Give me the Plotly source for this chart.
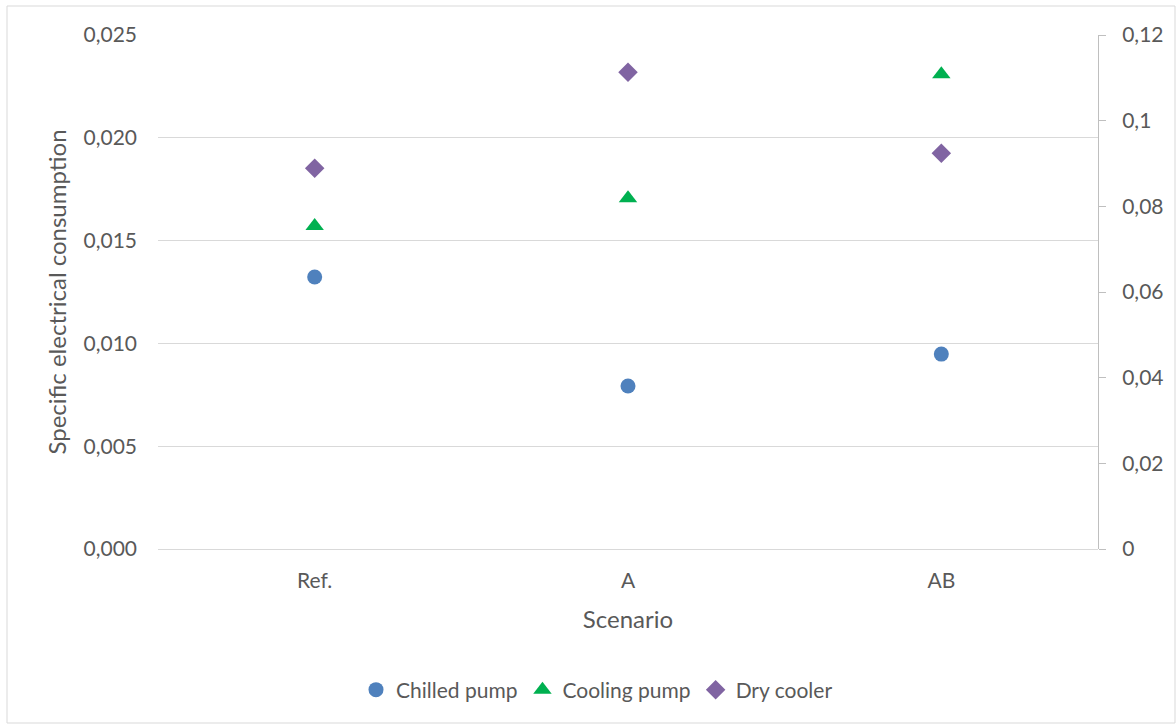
import plotly.graph_objects as go

scenarios = ["Ref.", "A", "AB"]
chilled_pump = [0.01323, 0.00793, 0.00948]
cooling_pump = [0.01571, 0.01706, 0.02309]
dry_cooler = [0.0889, 0.1113, 0.0924]

left_ticks = [0, 0.005, 0.010, 0.015, 0.020, 0.025]
right_ticks = [0, 0.02, 0.04, 0.06, 0.08, 0.10, 0.12]
right_ticktext = ["0", "0,02", "0,04", "0,06", "0,08", "0,1", "0,12"]

FONT = "Lato"
TXT = "#595959"
TICK = 21
TITLE = 24

fig = go.Figure()
fig.add_trace(go.Scatter(x=scenarios, y=chilled_pump, mode="markers", name="Chilled pump",
                         marker=dict(symbol="circle", size=15, color="#4F81BD")))
fig.add_trace(go.Scatter(x=scenarios, y=cooling_pump, mode="markers", name="Cooling pump",
                         marker=dict(symbol="triangle-up", size=16, color="#00B050")))
fig.add_trace(go.Scatter(x=scenarios, y=dry_cooler, mode="markers", name="Dry cooler", yaxis="y2",
                         marker=dict(symbol="diamond", size=15, color="#8064A2")))

W, H = 1176, 724
L, R, T, B = 158, 78, 35, 175
pw, ph = W - L - R, H - T - B

def px(x):
    return (x - L) / pw

def py(y):
    return (H - B - y) / ph

fig.add_shape(type="rect", xref="paper", yref="paper",
              x0=px(7), x1=px(1175), y0=py(6), y1=py(723),
              line=dict(color="#D9D9D9", width=1), fillcolor="rgba(0,0,0,0)", layer="below")

fig.update_layout(
    width=W, height=H,
    margin=dict(l=L, r=R, t=T, b=B),
    plot_bgcolor="white", paper_bgcolor="white",
    separators=",.",
    font=dict(family=FONT, size=TICK, color=TXT),
    showlegend=True,
    legend=dict(orientation="h", x=px(597), xanchor="center", y=py(690), yanchor="middle",
                font=dict(size=TICK, color=TXT), itemwidth=30, tracegroupgap=0),
    xaxis=dict(type="category", range=[-0.5, 2.5], showgrid=False, showline=False,
               zeroline=False, ticks="", tickfont=dict(size=TICK, color=TXT),
               ticklabelstandoff=17,
               title=dict(text="Scenario", font=dict(size=TITLE, color=TXT), standoff=20)),
    yaxis=dict(range=[0, 0.025], tickvals=left_ticks, tickformat=".3f",
               showgrid=True, gridcolor="#D9D9D9", gridwidth=1,
               zeroline=True, zerolinecolor="#D9D9D9", zerolinewidth=1,
               showline=False, ticks="", ticklabelstandoff=20,
               tickfont=dict(size=TICK, color=TXT),
               title=dict(text="Specific electrical consumption", font=dict(size=TITLE, color=TXT), standoff=10)),
    yaxis2=dict(range=[0, 0.12], tickvals=right_ticks, ticktext=right_ticktext,
                overlaying="y", side="right", showgrid=False, zeroline=False,
                showline=True, linecolor="#BFBFBF", linewidth=1,
                ticks="outside", ticklen=7, tickcolor="#BFBFBF",
                ticklabelstandoff=12,
                tickfont=dict(size=TICK, color=TXT)),
)

fig.write_html("out.html")
